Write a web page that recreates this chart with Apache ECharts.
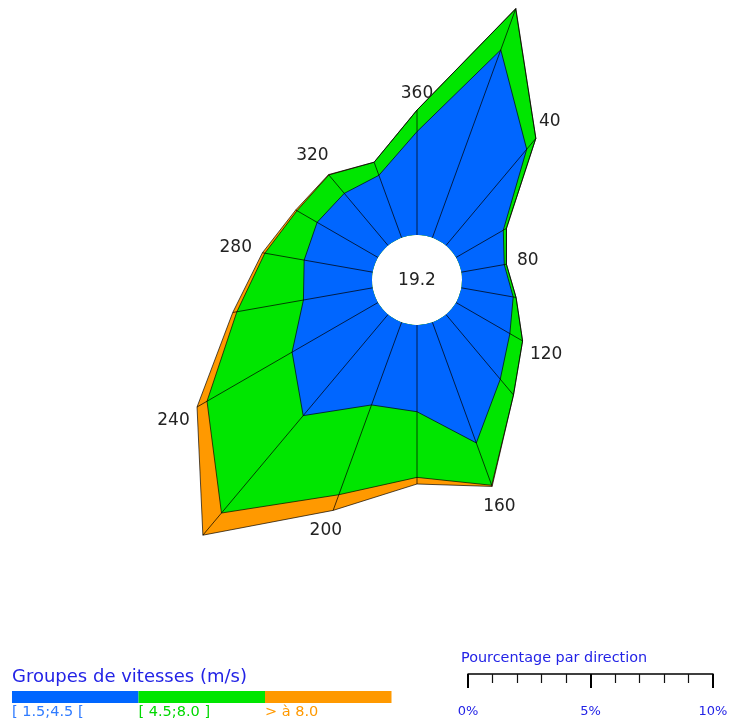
<!DOCTYPE html>
<html>
<head>
<meta charset="utf-8">
<script src="https://cdn.jsdelivr.net/npm/echarts@6/dist/echarts.min.js"></script>
<style>
  html, body { margin: 0; padding: 0; background: #fff; }
  #chart { width: 737px; height: 722px; }
</style>
</head>
<body>
<div id="chart"></div>
<script>
// ---- data ----
const directions = [0, 20, 40, 60, 80, 100, 120, 140, 160, 180, 200, 220, 240, 260, 280, 300, 320, 340];
const speedLow  = [4.22, 8.16, 5.13, 2.23, 1.78, 2.15, 2.54, 3.45, 5.24, 3.54, 3.59, 5.39, 4.05, 2.87, 2.84, 2.87, 2.78, 2.71];
const speedMid  = [0.88, 1.78, 0.58, 0.15, 0.09, 0.12, 0.60, 0.84, 1.84, 2.68, 3.90, 5.19, 4.01, 2.76, 1.63, 0.95, 0.98, 0.57];
const speedHigh = [0.00, 0.02, 0.00, 0.00, 0.00, 0.00, 0.00, 0.00, 0.05, 0.27, 0.68, 1.18, 0.47, 0.17, 0.10, 0.06, 0.02, 0.00];
const labelAngles = [0, 40, 80, 120, 160, 200, 240, 280, 320];
const labelTexts = ['360', '40', '80', '120', '160', '200', '240', '280', '320'];
const calmText = '19.2';
const groupNames = ['[ 1.5;4.5 [', '[ 4.5;8.0 ]', '> à 8.0'];
const legendTitle = 'Groupes de vitesses (m/s)';
const scaleTitle = 'Pourcentage par direction';
const scaleTickValues = [0, 5, 10];

// ---- styles ----
const colors = ['#0066ff', '#00e600', '#ff9900'];
const labelColors = ['#2f7bff', '#00d800', '#ff9900'];
const titleBlue = '#2323e6';
const center = [417, 280];
const innerR = 45;
const pxPerPct = 24.5;
const rMax = 12;
const labelFont = 17;

const cumMid = speedLow.map((v, i) => v + speedMid[i]);
const cumAll = cumMid.map((v, i) => v + speedHigh[i]);

function ring(values) {
  const d = directions.map((a, i) => [values[i], a]);
  d.push([values[0], 360]);
  return d;
}

function areaSeries(values, color) {
  return {
    type: 'line',
    coordinateSystem: 'polar',
    data: ring(values),
    symbol: 'none',
    silent: true,
    animation: false,
    lineStyle: { color: 'rgba(0,0,0,0.85)', width: 0.8 },
    areaStyle: { color: color, opacity: 1 }
  };
}

const labelData = labelAngles.map((a, k) => {
  const i = directions.indexOf(a);
  return [cumAll[i], a, labelTexts[k]];
});

const option = {
  animation: false,
  polar: { center: center, radius: [innerR, innerR + rMax * pxPerPct] },
  angleAxis: {
    type: 'value', min: 0, max: 360, startAngle: 90, clockwise: true, show: false,
    axisLine: { show: false }, axisTick: { show: false }, axisLabel: { show: false }, splitLine: { show: false }
  },
  radiusAxis: {
    type: 'value', min: 0, max: rMax, show: false,
    axisLine: { show: false }, axisTick: { show: false }, axisLabel: { show: false }, splitLine: { show: false }
  },
  grid: { left: 468, width: 10 * pxPerPct, top: 600, height: 74 },
  xAxis: {
    type: 'value', min: 0, max: 10, interval: 5,
    axisLine: { show: true, lineStyle: { color: '#000', width: 1.5 } },
    axisTick: { show: true, length: 14, lineStyle: { color: '#000', width: 2 } },
    minorTick: { show: true, splitNumber: 5, length: 9, lineStyle: { color: '#111', width: 1.2 } },
    splitLine: { show: false },
    axisLabel: {
      formatter: '{value}%', color: titleBlue, fontSize: 13, margin: 31,
      fontFamily: 'DejaVu Sans', customValues: scaleTickValues
    }
  },
  yAxis: { type: 'value', show: false },
  series: [
    areaSeries(cumAll, colors[2]),
    areaSeries(cumMid, colors[1]),
    areaSeries(speedLow, colors[0]),
    {
      type: 'custom',
      coordinateSystem: 'polar',
      silent: true,
      data: directions.map((a, i) => [cumAll[i], a]),
      renderItem: function (params, api) {
        const a = api.value(1);
        const p0 = api.coord([0, a]);
        const p1 = api.coord([api.value(0), a]);
        return {
          type: 'line',
          shape: { x1: p0[0], y1: p0[1], x2: p1[0], y2: p1[1] },
          style: { stroke: 'rgba(0,0,0,0.9)', lineWidth: 0.8 }
        };
      },
      z: 5
    },
    {
      type: 'custom',
      coordinateSystem: 'polar',
      silent: true,
      data: labelData,
      renderItem: function (params, api) {
        const a = api.value(1);
        const p = api.coord([api.value(0), a]);
        const txt = labelData[params.dataIndex][2];
        const rad = a * Math.PI / 180;
        const ux = Math.sin(rad), uy = -Math.cos(rad);
        const halfW = txt.length * 0.636 * labelFont / 2;
        const halfH = 0.73 * labelFont / 2;
        const d = 10 + Math.abs(ux) * halfW + Math.abs(uy) * halfH;
        return {
          type: 'text',
          x: p[0] + ux * d,
          y: p[1] + uy * d,
          style: {
            text: txt, fill: '#222', font: labelFont + 'px "DejaVu Sans"',
            align: 'center', verticalAlign: 'middle'
          }
        };
      },
      z: 6
    }
  ],
  graphic: [
    {
      type: 'text', x: center[0], y: center[1] + 1,
      style: { text: calmText, fill: '#222', font: '17px "DejaVu Sans"', align: 'center', verticalAlign: 'middle' },
      z: 10
    },
    {
      type: 'text', x: 12, y: 677,
      style: { text: legendTitle, fill: titleBlue, font: '18px "DejaVu Sans"', align: 'left', verticalAlign: 'middle' }
    },
    {
      type: 'text', x: 461, y: 658,
      style: { text: scaleTitle, fill: titleBlue, font: '14.4px "DejaVu Sans"', align: 'left', verticalAlign: 'middle' }
    }
  ].concat(groupNames.map((name, k) => ({
    type: 'rect',
    shape: { x: 12 + k * 126.5, y: 691, width: 126.5, height: 12 },
    style: { fill: colors[k] }
  }))).concat(groupNames.map((name, k) => ({
    type: 'text', x: 12 + k * 126.5, y: 712,
    style: { text: name, fill: labelColors[k], font: '14.5px "DejaVu Sans"', align: 'left', verticalAlign: 'middle' }
  })))
};

const chart = echarts.init(document.getElementById('chart'));
chart.setOption(option);
</script>
</body>
</html>
